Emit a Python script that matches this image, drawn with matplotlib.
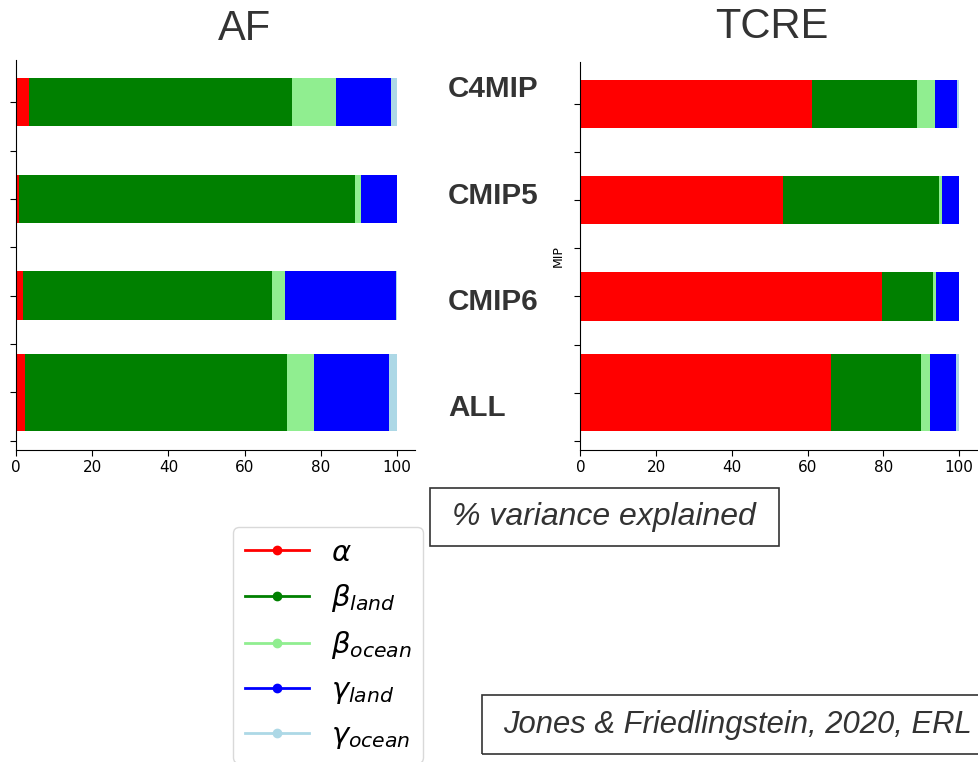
import numpy as np
import matplotlib
matplotlib.use('Agg')
import matplotlib.pyplot as plt
from matplotlib.lines import Line2D
from matplotlib.patches import Rectangle

# % of variance explained by each carbon-cycle parameter, per MIP
mips = ['C4MIP', 'CMIP5', 'CMIP6', 'ALL']
terms = [r'$\alpha$', r'$\beta_{land}$', r'$\beta_{ocean}$', r'$\gamma_{land}$', r'$\gamma_{ocean}$']
colours = ['red', 'green', 'lightgreen', 'blue', 'lightblue']

af_alpha = [3.4, 0.8, 1.9, 2.3]
af_beta_land = [69.1, 88.2, 65.3, 68.8]
af_beta_ocean = [11.4, 1.4, 3.4, 7.1]
af_gamma_land = [14.4, 9.6, 29.2, 19.7]
af_gamma_ocean = [1.7, 0.0, 0.2, 2.1]

tcre_alpha = [61.2, 53.5, 79.6, 66.2]
tcre_beta_land = [27.6, 41.2, 13.6, 23.7]
tcre_beta_ocean = [4.7, 0.7, 0.6, 2.5]
tcre_gamma_land = [5.9, 4.6, 6.2, 6.7]
tcre_gamma_ocean = [0.6, 0.0, 0.0, 0.9]

af = [af_alpha, af_beta_land, af_beta_ocean, af_gamma_land, af_gamma_ocean]
tcre = [tcre_alpha, tcre_beta_land, tcre_beta_ocean, tcre_gamma_land, tcre_gamma_ocean]

ypos = np.arange(len(mips)) * 2
bar_height = [1.0, 1.0, 1.0, 1.6]

txt = '#333333'
fig = plt.figure(figsize=(9.79, 7.62), dpi=100)


def stacked(ax, parts):
    left = np.zeros(len(mips))
    for vals, c in zip(parts, colours):
        vals = np.array(vals)
        ax.barh(ypos, vals, left=left, height=bar_height, color=c, linewidth=0)
        left += vals
    ax.set_xlim(0, 104.7)
    ax.set_ylim(7.19, -0.87)
    ax.set_yticks(np.arange(8))
    ax.set_yticklabels([])
    ax.set_xticks(np.arange(0, 101, 20))
    ax.tick_params(axis='x', labelsize=11, length=4)
    ax.tick_params(axis='y', length=4)
    ax.spines['top'].set_visible(False)
    ax.spines['right'].set_visible(False)


ax1 = fig.add_axes([0.01634, 0.4094, 0.4076, 0.5118])
stacked(ax1, af)
ax2 = fig.add_axes([0.5928, 0.4094, 0.4052, 0.5092])
stacked(ax2, tcre)
ax2.set_ylabel('MIP', fontsize=9, labelpad=4)

fig.text(244 / 979, 1 - 29 / 762, 'AF', fontsize=30, family='Liberation Sans',
         color=txt, ha='center', va='center')
fig.text(772 / 979, 1 - 27 / 762, 'TCRE', fontsize=30, family='Liberation Sans',
         color=txt, ha='center', va='center')

for name, yp in zip(mips, [89, 196, 302, 408]):
    fig.text(448 / 979, 1 - yp / 762, name, fontsize=21.3, fontweight='bold',
             family='Liberation Sans', color=txt, ha='left', va='center')

# framed captions
for (x0, y0, x1, y1), label, tx, fs in [((430, 488, 779, 546), '% variance explained', 452, 23),
                                        ((482, 695, 1000, 754), 'Jones & Friedlingstein, 2020, ERL', 503, 22.3)]:
    fig.patches.append(Rectangle((x0 / 979, 1 - y1 / 762), (x1 - x0) / 979, (y1 - y0) / 762,
                                 transform=fig.transFigure, fill=False,
                                 edgecolor='#333333', linewidth=1.2))
    fig.text(tx / 979, 1 - (y0 + y1) / 2 / 762, label, fontsize=fs, style='italic',
             family='Liberation Sans', color=txt, ha='left', va='center')

handles = [Line2D([], [], color=c, marker='o', markersize=6, linewidth=2) for c in colours]
fig.legend(handles, terms, loc='upper left', bbox_to_anchor=(233 / 979, 1 - 527 / 762),
           fontsize=21, handlelength=2.2, handletextpad=0.75, labelspacing=0.52,
           borderaxespad=0, framealpha=1, edgecolor='0.85')

fig.savefig('out.png', dpi=100)
